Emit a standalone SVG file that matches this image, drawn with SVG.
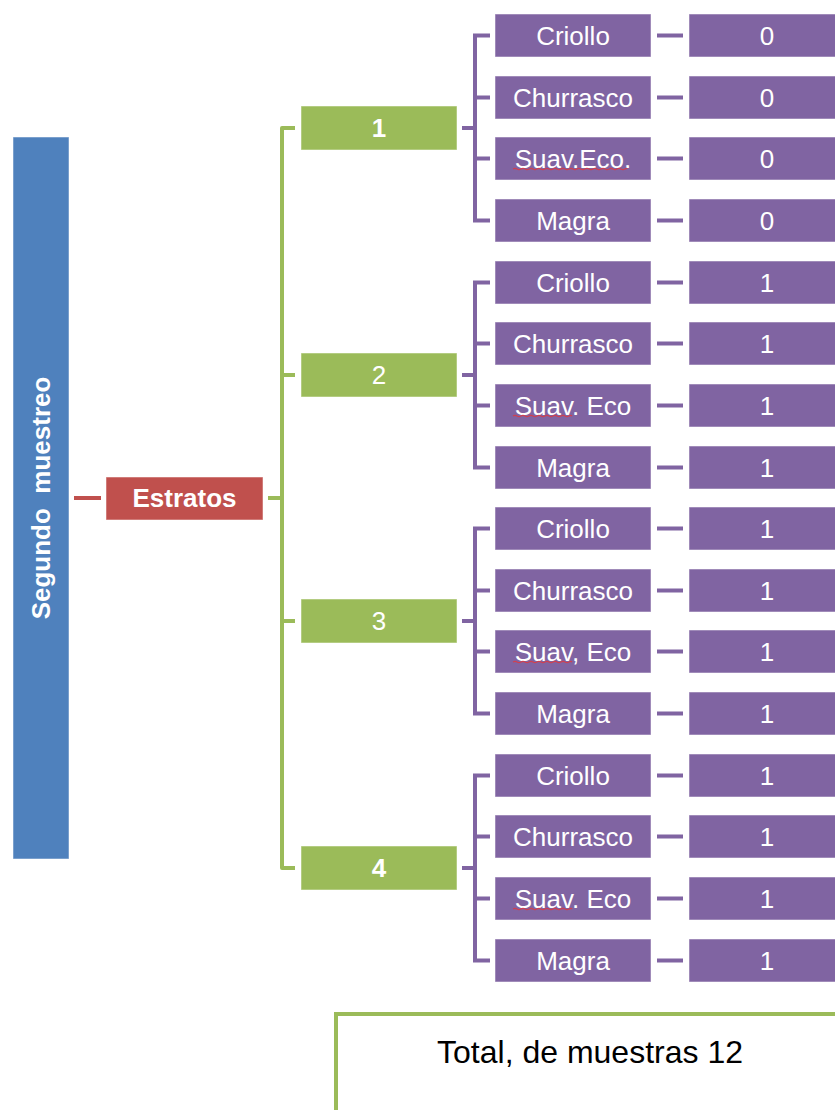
<svg xmlns="http://www.w3.org/2000/svg" width="835" height="1110" viewBox="0 0 835 1110">
<style>
.t{font-family:"Liberation Sans",Arial,sans-serif;fill:#fff;font-size:26px;text-anchor:middle}
.b{font-weight:bold}
.p{fill:#8064A2;stroke:#fff;stroke-opacity:.5;stroke-width:1}
.g{fill:#9BBB59;stroke:#fff;stroke-opacity:.5;stroke-width:1}
.cp{stroke:#8064A2;stroke-width:4;fill:none}
.cg{stroke:#9BBB59;stroke-width:4;fill:none;stroke-linejoin:round}
.sq{stroke:#D04050;stroke-width:1.2;fill:none}
</style>
<rect width="835" height="1110" fill="#fff"/>
<g id="connectors">
<line x1="74" y1="498" x2="101" y2="498" stroke="#C0504D" stroke-width="4"/>
<path class="cg" d="M268,498 H282 M295,128 H282 V868 H295 M282,375 H295 M282,621 H295"/>
<path class="cp" d="M462,128 H475 M490,35.5 H475 V220.5 H490 M475,97.5 H490 M475,158.5 H490"/>
<path class="cp" d="M462,375 H475 M490,282.5 H475 V467.5 H490 M475,343.5 H490 M475,405.5 H490"/>
<path class="cp" d="M462,621 H475 M490,528.5 H475 V713.5 H490 M475,590.5 H490 M475,651.5 H490"/>
<path class="cp" d="M462,868 H475 M490,775.5 H475 V960.5 H490 M475,836.5 H490 M475,898.5 H490"/>
<path class="cp" d="M657,35.5 H683 M657,97.5 H683 M657,158.5 H683 M657,220.5 H683 M657,282.5 H683 M657,343.5 H683 M657,405.5 H683 M657,467.5 H683 M657,528.5 H683 M657,590.5 H683 M657,651.5 H683 M657,713.5 H683 M657,775.5 H683 M657,836.5 H683 M657,898.5 H683 M657,960.5 H683"/>
</g>
<g id="segundo"><rect x="13" y="137" width="56" height="722" fill="#4F81BD" stroke="#fff" stroke-opacity=".5"/><text class="t b" transform="translate(50,498) rotate(-90)" xml:space="preserve">Segundo  muestreo</text></g>
<g id="estratos"><rect x="106" y="477" width="157" height="43" fill="#C0504D" stroke="#fff" stroke-opacity=".5"/><text class="t b" x="184.5" y="507">Estratos</text></g>
<g id="e1"><rect class="g" x="301" y="106" width="156" height="44"/><text class="t b" x="379" y="137">1</text></g>
<g id="e2"><rect class="g" x="301" y="353" width="156" height="44"/><text class="t" x="379" y="384">2</text></g>
<g id="e3"><rect class="g" x="301" y="599" width="156" height="44"/><text class="t" x="379" y="630">3</text></g>
<g id="e4"><rect class="g" x="301" y="846" width="156" height="44"/><text class="t b" x="379" y="877">4</text></g>
<g id="c1a"><rect class="p" x="495" y="14" width="156" height="43"/><text class="t" x="573" y="44.5">Criollo</text></g>
<g id="c1b"><rect class="p" x="495" y="76" width="156" height="43"/><text class="t" x="573" y="106.5">Churrasco</text></g>
<g id="c1c"><rect class="p" x="495" y="137" width="156" height="43"/><text class="t" x="573" y="167.5">Suav.Eco.</text><path class="sq" d="M513,169 q2,-1.2 4,0 t4,0 t4,0 t4,0 t4,0 t4,0 t4,0 t4,0 t4,0 t4,0 t4,0 t4,0 t4,0 t4,0 t4,0 t4,0 t4,0 t4,0 t4,0 t4,0 t4,0 t4,0 t4,0 t4,0 t4,0 t4,0 t4,0 t4,0 t2,0"/></g>
<g id="c1d"><rect class="p" x="495" y="199" width="156" height="43"/><text class="t" x="573" y="229.5">Magra</text></g>
<g id="c2a"><rect class="p" x="495" y="261" width="156" height="43"/><text class="t" x="573" y="291.5">Criollo</text></g>
<g id="c2b"><rect class="p" x="495" y="322" width="156" height="43"/><text class="t" x="573" y="352.5">Churrasco</text></g>
<g id="c2c"><rect class="p" x="495" y="384" width="156" height="43"/><text class="t" x="573" y="414.5">Suav. Eco</text><path class="sq" d="M513,416 q2,-1.2 4,0 t4,0 t4,0 t4,0 t4,0 t4,0 t4,0 t4,0 t4,0 t4,0 t4,0 t4,0 t4,0 t4,0 t3,0"/></g>
<g id="c2d"><rect class="p" x="495" y="446" width="156" height="43"/><text class="t" x="573" y="476.5">Magra</text></g>
<g id="c3a"><rect class="p" x="495" y="507" width="156" height="43"/><text class="t" x="573" y="537.5">Criollo</text></g>
<g id="c3b"><rect class="p" x="495" y="569" width="156" height="43"/><text class="t" x="573" y="599.5">Churrasco</text></g>
<g id="c3c"><rect class="p" x="495" y="630" width="156" height="43"/><text class="t" x="573" y="660.5">Suav, Eco</text><path class="sq" d="M513,662 q2,-1.2 4,0 t4,0 t4,0 t4,0 t4,0 t4,0 t4,0 t4,0 t4,0 t4,0 t4,0 t4,0 t4,0 t4,0 t3,0"/></g>
<g id="c3d"><rect class="p" x="495" y="692" width="156" height="43"/><text class="t" x="573" y="722.5">Magra</text></g>
<g id="c4a"><rect class="p" x="495" y="754" width="156" height="43"/><text class="t" x="573" y="784.5">Criollo</text></g>
<g id="c4b"><rect class="p" x="495" y="815" width="156" height="43"/><text class="t" x="573" y="845.5">Churrasco</text></g>
<g id="c4c"><rect class="p" x="495" y="877" width="156" height="43"/><text class="t" x="573" y="907.5">Suav. Eco</text><path class="sq" d="M513,909 q2,-1.2 4,0 t4,0 t4,0 t4,0 t4,0 t4,0 t4,0 t4,0 t4,0 t4,0 t4,0 t4,0 t4,0 t4,0 t3,0"/></g>
<g id="c4d"><rect class="p" x="495" y="939" width="156" height="43"/><text class="t" x="573" y="969.5">Magra</text></g>
<g id="v1a"><rect class="p" x="689" y="14" width="160" height="43"/><text class="t" x="767" y="44.5">0</text></g>
<g id="v1b"><rect class="p" x="689" y="76" width="160" height="43"/><text class="t" x="767" y="106.5">0</text></g>
<g id="v1c"><rect class="p" x="689" y="137" width="160" height="43"/><text class="t" x="767" y="167.5">0</text></g>
<g id="v1d"><rect class="p" x="689" y="199" width="160" height="43"/><text class="t" x="767" y="229.5">0</text></g>
<g id="v2a"><rect class="p" x="689" y="261" width="160" height="43"/><text class="t" x="767" y="291.5">1</text></g>
<g id="v2b"><rect class="p" x="689" y="322" width="160" height="43"/><text class="t" x="767" y="352.5">1</text></g>
<g id="v2c"><rect class="p" x="689" y="384" width="160" height="43"/><text class="t" x="767" y="414.5">1</text></g>
<g id="v2d"><rect class="p" x="689" y="446" width="160" height="43"/><text class="t" x="767" y="476.5">1</text></g>
<g id="v3a"><rect class="p" x="689" y="507" width="160" height="43"/><text class="t" x="767" y="537.5">1</text></g>
<g id="v3b"><rect class="p" x="689" y="569" width="160" height="43"/><text class="t" x="767" y="599.5">1</text></g>
<g id="v3c"><rect class="p" x="689" y="630" width="160" height="43"/><text class="t" x="767" y="660.5">1</text></g>
<g id="v3d"><rect class="p" x="689" y="692" width="160" height="43"/><text class="t" x="767" y="722.5">1</text></g>
<g id="v4a"><rect class="p" x="689" y="754" width="160" height="43"/><text class="t" x="767" y="784.5">1</text></g>
<g id="v4b"><rect class="p" x="689" y="815" width="160" height="43"/><text class="t" x="767" y="845.5">1</text></g>
<g id="v4c"><rect class="p" x="689" y="877" width="160" height="43"/><text class="t" x="767" y="907.5">1</text></g>
<g id="v4d"><rect class="p" x="689" y="939" width="160" height="43"/><text class="t" x="767" y="969.5">1</text></g>
<g id="total"><rect x="336" y="1014" width="520" height="120" fill="#fff" stroke="#9BBB59" stroke-width="4"/><text x="590" y="1063" font-family="Liberation Sans, Arial, sans-serif" font-size="32" fill="#000" text-anchor="middle">Total, de muestras 12</text></g>
</svg>
